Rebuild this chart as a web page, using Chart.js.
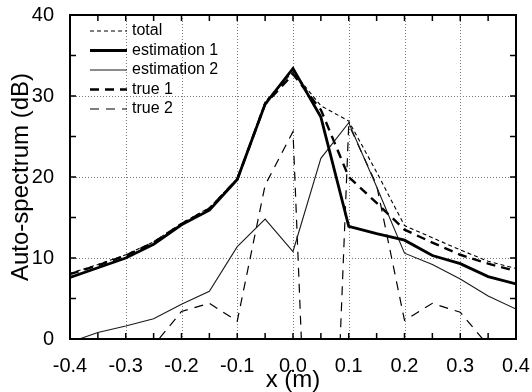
<!DOCTYPE html>
<html>
<head>
<meta charset="utf-8">
<script src="https://cdn.jsdelivr.net/npm/chart.js@4.4.1/dist/chart.umd.min.js"></script>
<style>
  html, body { margin: 0; padding: 0; background: #fff; }
  #wrap { width: 532px; height: 392px; }
</style>
</head>
<body>
<div id="wrap"><canvas id="chart" width="532" height="392"></canvas></div>
<script>
// positions along the array (m)
const xValues = [-0.4, -0.35, -0.3, -0.25, -0.2, -0.15, -0.1, -0.05, 0, 0.05, 0.1, 0.15, 0.2, 0.25, 0.3, 0.35, 0.4];

// auto-spectrum levels (dB)
const total       = [8.1, 9.2, 10.4, 12.0, 14.3, 16.2, 19.8, 29.3, 33.0, 28.8, 26.9, 20.6, 14.0, 12.5, 11.0, 9.6, 8.7];
const estimation1 = [7.6, 8.8, 10.0, 11.7, 14.1, 15.9, 19.7, 29.0, 33.4, 27.4, 13.9, 13.0, 12.2, 10.3, 9.3, 7.7, 6.8];
const estimation2 = [-0.4, 0.8, 1.6, 2.5, 4.3, 5.9, 11.4, 14.8, 10.8, 22.3, 26.7, 18.8, 10.6, 9.2, 7.4, 5.3, 3.7];
const true1       = [8.0, 9.1, 10.3, 11.9, 14.2, 16.1, 19.7, 29.0, 32.7, 28.3, 20.0, 16.8, 13.5, 11.9, 10.4, 9.3, 8.4];
const true2       = [-8, -6, -4, -0.8, 3.4, 4.4, 2.2, 19.0, 25.6, -60, 26.5, 19.0, 2.3, 4.4, 3.3, -0.8, -4];

const xTicks = [-0.4, -0.3, -0.2, -0.1, 0, 0.1, 0.2, 0.3, 0.4];
const yTicks = [0, 10, 20, 30, 40];
const xMinorTicks = [-0.4, -0.35, -0.3, -0.25, -0.2, -0.15, -0.1, -0.05, 0, 0.05, 0.1, 0.15, 0.2, 0.25, 0.3, 0.35, 0.4];
const yMinorTicks = [0, 5, 10, 15, 20, 25, 30, 35, 40];

const FONT = '"Liberation Sans", Arial, Helvetica, sans-serif';

function pts(values) {
    return xValues.map((x, i) => ({ x: x, y: values[i] }));
}

// dotted grid, boxed frame and inward ticks
const framePlugin = {
    id: 'frame',
    beforeDatasetsDraw(chart) {
        const { ctx, chartArea: a, scales: { x, y } } = chart;
        ctx.save();
        ctx.strokeStyle = '#7a7a7a';
        ctx.lineWidth = 1;
        ctx.setLineDash([1, 2]);
        xTicks.forEach(v => {
            const px = Math.round(x.getPixelForValue(v)) + 0.5;
            ctx.beginPath(); ctx.moveTo(px, a.top); ctx.lineTo(px, a.bottom); ctx.stroke();
        });
        yTicks.forEach(v => {
            const py = Math.round(y.getPixelForValue(v)) + 0.5;
            ctx.beginPath(); ctx.moveTo(a.left, py); ctx.lineTo(a.right, py); ctx.stroke();
        });
        ctx.restore();
    },
    afterDatasetsDraw(chart) {
        const { ctx, chartArea: a, scales: { x, y } } = chart;
        ctx.save();
        ctx.strokeStyle = '#000';
        ctx.setLineDash([]);
        ctx.lineWidth = 1.5;
        const len = 6;
        xMinorTicks.forEach(v => {
            const px = x.getPixelForValue(v);
            ctx.beginPath();
            ctx.moveTo(px, a.bottom); ctx.lineTo(px, a.bottom - len);
            ctx.moveTo(px, a.top); ctx.lineTo(px, a.top + len);
            ctx.stroke();
        });
        yMinorTicks.forEach(v => {
            const py = y.getPixelForValue(v);
            ctx.beginPath();
            ctx.moveTo(a.left, py); ctx.lineTo(a.left + len, py);
            ctx.moveTo(a.right, py); ctx.lineTo(a.right - len, py);
            ctx.stroke();
        });
        ctx.lineWidth = 2;
        ctx.strokeRect(a.left, a.top, a.right - a.left, a.bottom - a.top);
        ctx.restore();
    }
};

// legend drawn inside the plot, top left, with line samples
const legendPlugin = {
    id: 'insideLegend',
    afterDraw(chart) {
        const { ctx, chartArea: a } = chart;
        ctx.save();
        ctx.font = '16px ' + FONT;
        ctx.textBaseline = 'middle';
        ctx.fillStyle = '#000';
        chart.data.datasets.forEach((ds, i) => {
            const yy = a.top + 16 + i * 19.5;
            const x0 = a.left + 20, x1 = a.left + 57;
            ctx.strokeStyle = ds.borderColor;
            ctx.lineWidth = ds.borderWidth;
            ctx.setLineDash(ds.borderDash || []);
            ctx.beginPath(); ctx.moveTo(x0, yy); ctx.lineTo(x1, yy); ctx.stroke();
            ctx.fillText(ds.label, a.left + 62, yy);
        });
        ctx.restore();
    }
};

const ctx = document.getElementById('chart').getContext('2d');
new Chart(ctx, {
    type: 'line',
    data: {
        datasets: [
            { label: 'total', data: pts(total), borderColor: '#000', borderWidth: 1.1, borderDash: [4, 3] },
            { label: 'estimation 1', data: pts(estimation1), borderColor: '#000', borderWidth: 2.8 },
            { label: 'estimation 2', data: pts(estimation2), borderColor: '#1a1a1a', borderWidth: 1.1 },
            { label: 'true 1', data: pts(true1), borderColor: '#000', borderWidth: 2.4, borderDash: [9, 6] },
            { label: 'true 2', data: pts(true2), borderColor: '#000', borderWidth: 1.2, borderDash: [9, 7] }
        ]
    },
    options: {
        responsive: false,
        animation: false,
        devicePixelRatio: 1,
        elements: { point: { radius: 0 }, line: { tension: 0 } },
        layout: { padding: { top: 15, right: 16, left: 0, bottom: 0 } },
        plugins: { legend: { display: false }, tooltip: { enabled: false } },
        scales: {
            x: {
                type: 'linear', min: -0.4, max: 0.4,
                afterBuildTicks: s => { s.ticks = xTicks.map(v => ({ value: v })); },
                afterFit: s => { s.height = 53; s.paddingLeft = 0; s.paddingRight = 0; },
                grid: { display: false },
                border: { display: false },
                ticks: {
                    color: '#000', padding: 7, maxRotation: 0, autoSkip: false,
                    font: { size: 20, family: FONT },
                    callback: v => (Math.abs(v) < 1e-9 ? 0 : v).toFixed(1)
                },
                title: { display: true, text: 'x (m)', color: '#000', font: { size: 24, family: FONT, lineHeight: 1 }, padding: { top: 0, bottom: 0 } }
            },
            y: {
                min: 0, max: 40,
                afterBuildTicks: s => { s.ticks = yTicks.map(v => ({ value: v })); },
                afterFit: s => { s.width = 70; s.paddingTop = 0; s.paddingBottom = 0; },
                grid: { display: false },
                border: { display: false },
                ticks: { color: '#000', padding: 8, font: { size: 20, family: FONT } },
                title: { display: true, text: 'Auto-spectrum (dB)', color: '#000', font: { size: 24, family: FONT, lineHeight: 1 }, padding: { top: 9, bottom: 0 } }
            }
        }
    },
    plugins: [framePlugin, legendPlugin]
});
</script>
</body>
</html>
